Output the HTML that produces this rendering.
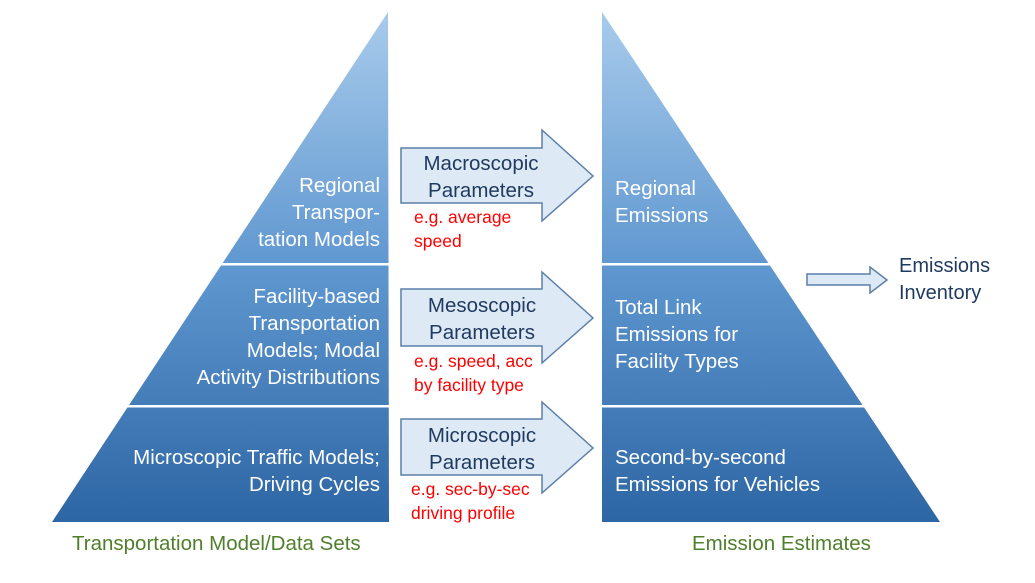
<!DOCTYPE html>
<html><head><meta charset="utf-8"><style>
html,body{margin:0;padding:0;background:#fff;}
svg{display:block;font-family:"Liberation Sans",sans-serif;}
</style></head><body>
<svg width="1035" height="583" viewBox="0 0 1035 583">
<defs>
<linearGradient id="g" x1="0" y1="12" x2="0" y2="522" gradientUnits="userSpaceOnUse">
<stop offset="0" stop-color="#a8cbeb"/>
<stop offset="0.5" stop-color="#5f97d0"/>
<stop offset="1" stop-color="#2d66a4"/>
</linearGradient>
</defs>
<polygon points="388,12 389,522 52,522" fill="url(#g)"/>
<polygon points="602,12 940,522 602,522" fill="url(#g)"/>
<rect x="0" y="263" width="1035" height="2.5" fill="#fff"/>
<rect x="0" y="405" width="1035" height="2.5" fill="#fff"/>
<rect x="389" y="0" width="213" height="583" fill="#fff"/>
<rect x="0" y="522" width="1035" height="61" fill="#fff"/>
<g fill="#dde9f5" stroke="#5a7fa8" stroke-width="1.5">
<polygon points="401,148 542,148 542,130 593,176 542,221 542,203 401,203"/>
<polygon points="401,289 542,289 542,272 593,318 542,363 542,346 401,346"/>
<polygon points="401,419 542,419 542,402 593,448 542,493 542,475 401,475"/>
<polygon points="807,274 870,274 870,267 887,280 870,293 870,285 807,285"/>
</g>
<g font-size="20.5" fill="#fff" text-anchor="end">
<text x="380" y="192">Regional</text>
<text x="380" y="219">Transpor-</text>
<text x="380" y="246">tation Models</text>
<text x="380" y="303">Facility-based</text>
<text x="380" y="330">Transportation</text>
<text x="380" y="357">Models; Modal</text>
<text x="380" y="384">Activity Distributions</text>
<text x="380" y="464">Microscopic Traffic Models;</text>
<text x="380" y="491">Driving Cycles</text>
</g>
<g font-size="20.5" fill="#fff">
<text x="615" y="195">Regional</text>
<text x="615" y="222">Emissions</text>
<text x="615" y="314">Total Link</text>
<text x="615" y="341">Emissions for</text>
<text x="615" y="368">Facility Types</text>
<text x="615" y="464">Second-by-second</text>
<text x="615" y="491">Emissions for Vehicles</text>
</g>
<g font-size="20.5" fill="#1f3a5f" text-anchor="middle">
<text x="481" y="170">Macroscopic</text>
<text x="481" y="197">Parameters</text>
<text x="482" y="312">Mesoscopic</text>
<text x="482" y="339">Parameters</text>
<text x="482" y="442">Microscopic</text>
<text x="482" y="469">Parameters</text>
</g>
<g font-size="20" fill="#1f3a5f">
<text x="899" y="272">Emissions</text>
<text x="899" y="299">Inventory</text>
</g>
<g font-size="17.5" fill="#ff0000">
<text x="414" y="223">e.g. average</text>
<text x="414" y="247">speed</text>
<text x="414" y="367">e.g. speed, acc</text>
<text x="414" y="391">by facility type</text>
<text x="411" y="495">e.g. sec-by-sec</text>
<text x="411" y="519">driving profile</text>
</g>
<g font-size="20.5" fill="#4f7f2b">
<text x="72" y="550">Transportation Model/Data Sets</text>
<text x="692" y="550">Emission Estimates</text>
</g>
</svg>
</body></html>
